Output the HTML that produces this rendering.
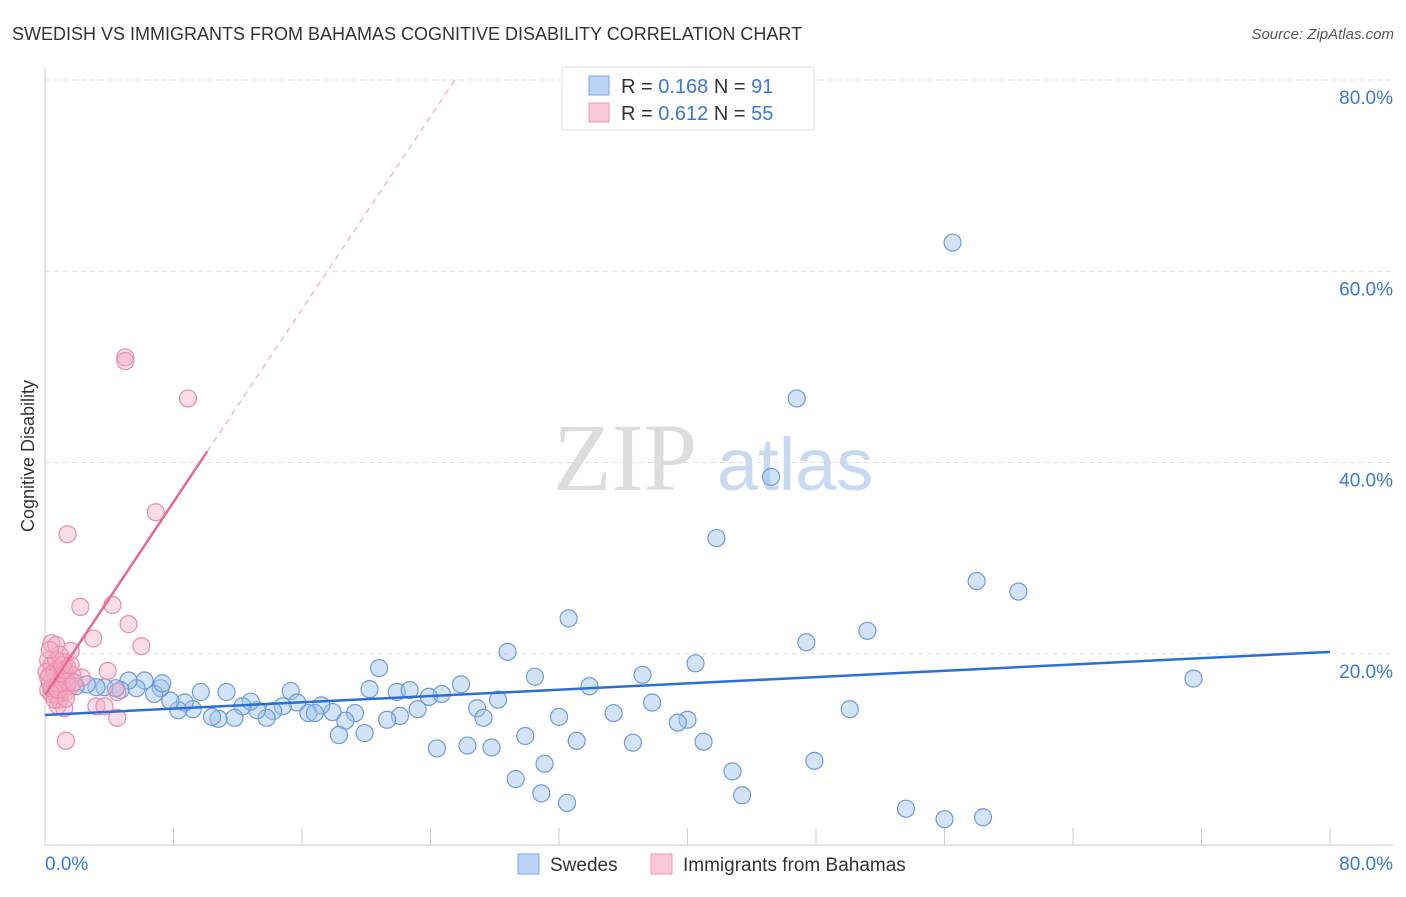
<!DOCTYPE html>
<html><head><meta charset="utf-8"><style>
body{margin:0;background:#fff;font-family:"Liberation Sans",sans-serif;}
svg text{font-family:"Liberation Sans",sans-serif;}
</style></head><body>
<svg id="chart" width="1406" height="892" xmlns="http://www.w3.org/2000/svg">
<text x="12" y="40" font-size="18" fill="#333">SWEDISH VS IMMIGRANTS FROM BAHAMAS COGNITIVE DISABILITY CORRELATION CHART</text>
<text x="1394" y="39" font-size="15" fill="#555" text-anchor="end" font-style="italic">Source: ZipAtlas.com</text>
<g>
<text x="553" y="490" font-size="96" fill="#dcdcdc" font-family="Liberation Serif" style="font-family:'Liberation Serif',serif">ZIP</text>
<text x="717" y="490" font-size="74" fill="#c8daf2">atlas</text>
</g>
<g id="grid"></g>
<g id="axes"></g>
<g id="marks"></g>
<g>
<rect x="562" y="67" width="252" height="63" fill="#fff" stroke="#ddd"/>
<rect x="589" y="76" width="20" height="19" fill="#bcd4f5" stroke="#7aa6e6"/>
<text x="621" y="93" font-size="20" fill="#333">R = <tspan fill="#3a78d6">0.168</tspan>   N = <tspan fill="#3a78d6"> 91</tspan></text>
<rect x="589" y="103" width="20" height="19" fill="#fac8d7" stroke="#ee9ab3"/>
<text x="621" y="120" font-size="20" fill="#333">R = <tspan fill="#3a78d6">0.612</tspan>   N = <tspan fill="#3a78d6">55</tspan></text>
</g>
<g>
<rect x="518" y="854" width="21" height="20" fill="#bcd4f5" stroke="#7aa6e6"/>
<text x="550" y="871" font-size="19" fill="#333">Swedes</text>
<rect x="651" y="854" width="21" height="20" fill="#fac8d7" stroke="#ee9ab3"/>
<text x="683" y="871" font-size="19" fill="#333">Immigrants from Bahamas</text>
</g>
<text transform="translate(34,456) rotate(-90)" font-size="18" fill="#333" text-anchor="middle">Cognitive Disability</text>
</svg>
<script>
const yTicks=[20,40,60,80];
const yTickLabels=["20.0%","40.0%","60.0%","80.0%"];
const xTickLabels=["0.0%","80.0%"];
const blueX=[56.5,46.8,45.2,41.8,58.0,60.6,32.6,47.4,51.2,28.8,40.5,37.2,71.5,20.8,30.5,33.9,25.9,20.2,21.9,22.7,24.7,23.9,28.2,37.8,23.2,26.9,27.3,32.0,35.4,50.1,40.0,39.4,22.1,21.3,19.3,18.7,17.9,17.2,15.3,15.7,16.4,16.8,14.8,14.2,13.8,13.2,12.8,12.3,11.8,10.8,10.4,9.7,11.3,9.2,8.7,8.3,7.8,7.2,6.8,6.2,5.7,5.2,7.3,4.7,4.4,3.7,3.2,2.6,1.9,1.4,0.9,29.9,33.1,24.4,26.3,27.8,36.6,41.0,18.3,19.9,31.1,29.3,42.8,47.9,30.9,32.5,43.4,53.6,56.0,58.4,0.4];
const blueY=[63.0,46.7,38.5,32.1,27.6,26.5,23.7,21.2,22.4,20.2,19.0,17.8,17.4,18.5,17.6,16.6,16.8,16.3,16.0,16.2,15.8,15.5,15.2,14.9,14.2,14.3,13.3,13.4,13.8,14.2,13.1,12.8,13.5,13.1,13.8,13.0,13.9,14.6,16.1,14.9,13.8,13.8,14.5,14.0,13.3,14.1,15.0,14.5,13.3,13.2,13.4,16.0,16.0,14.2,14.9,14.1,15.1,16.4,15.8,17.2,16.4,17.2,16.9,16.2,16.4,16.5,16.5,16.8,16.6,16.8,16.6,11.4,10.9,10.1,10.4,10.2,10.7,10.8,11.5,11.7,8.5,6.9,7.7,8.8,5.4,4.4,5.2,3.8,2.7,2.9,16.4];
const pinkX=[5.0,5.0,8.9,6.9,1.4,2.2,4.2,5.2,3.0,6.0,0.4,0.7,1.6,3.9,0.2,0.4,0.8,1.2,1.4,1.7,0.9,0.6,0.3,0.2,1.1,1.3,0.7,0.9,0.8,1.2,3.2,3.7,4.5,4.5,1.3,2.3,0.3,0.6,0.8,1.1,1.3,1.6,1.8,0.4,0.7,0.9,1.2,0.3,0.6,0.8,1.1,1.3,0.1,0.2,1.6];
const pinkY=[51.0,50.6,46.7,34.8,32.5,24.9,25.1,23.1,21.6,20.8,21.1,20.9,20.3,18.2,19.3,18.8,18.5,19.1,18.5,17.8,17.5,17.3,16.9,16.2,16.2,16.0,15.7,15.2,14.6,14.3,14.5,14.5,16.0,13.3,10.9,17.5,17.8,18.1,16.7,17.8,17.3,16.6,17.0,15.8,19.3,19.9,18.3,20.4,15.2,16.2,18.8,15.3,18.1,17.5,18.8];
const blueTrend=[13.6,20.2];
const pinkTrend=[15.7,2.52];
const NS="http://www.w3.org/2000/svg";
const X=v=>45+v/80*1285, Y=v=>845-v/80*765;
function mk(tag,attrs,parent){const e=document.createElementNS(NS,tag);for(const k in attrs)e.setAttribute(k,attrs[k]);document.getElementById(parent).appendChild(e);return e;}
yTicks.forEach((t,i)=>{
 const g=mk('line',{x1:45,x2:1393,y1:Y(t),y2:Y(t),stroke:'#ddd','stroke-dasharray':'5,4'},'grid');
 
 
 const l=mk('text',{x:1393,y:Y(t)+24,'font-size':19,fill:'#3a78d6','text-anchor':'end'},'axes');
 l.textContent=yTickLabels[i];
 
 
});
const ax=mk('line',{x1:45,x2:45,y1:68,y2:845,stroke:'#ccc'},'axes');


const bx=mk('line',{x1:45,x2:1393,y1:845,y2:845,stroke:'#ccc'},'axes');


for(let i=1;i<=10;i++){const t=mk('line',{x1:X(i*8),x2:X(i*8),y1:828,y2:845,stroke:'#ccc'},'axes');
 
 }
const x0=mk('text',{x:45,y:870,'font-size':19,fill:'#3a78d6'},'axes');x0.textContent=xTickLabels[0];


const x1=mk('text',{x:1393,y:870,'font-size':19,fill:'#3a78d6','text-anchor':'end'},'axes');x1.textContent=xTickLabels[1];


blueX.forEach((v,i)=>{const c=mk('circle',{cx:X(v),cy:Y(blueY[i]),r:8.5,fill:'rgba(160,195,240,0.45)',stroke:'#6c9be0','stroke-width':1.2},'marks');
 
 });
pinkX.forEach((v,i)=>{const c=mk('circle',{cx:X(v),cy:Y(pinkY[i]),r:8.5,fill:'rgba(245,170,195,0.4)',stroke:'#eb8dab','stroke-width':1.2},'marks');
 
 });
const bl=mk('line',{x1:X(0),y1:Y(blueTrend[0]),x2:X(80),y2:Y(blueTrend[1]),stroke:'#2a6fd6','stroke-width':2.5},'marks');


const xs=10.1, xe=(80-pinkTrend[0])/pinkTrend[1];
const pl=mk('line',{x1:X(0),y1:Y(pinkTrend[0]),x2:X(xs),y2:Y(pinkTrend[0]+pinkTrend[1]*xs),stroke:'#e8679a','stroke-width':2.5},'marks');


const pd=mk('line',{x1:X(xs),y1:Y(pinkTrend[0]+pinkTrend[1]*xs),x2:X(xe),y2:Y(80),stroke:'#eeaac2','stroke-width':1.2,'stroke-dasharray':'6,5'},'marks');


</script>
</body></html>
